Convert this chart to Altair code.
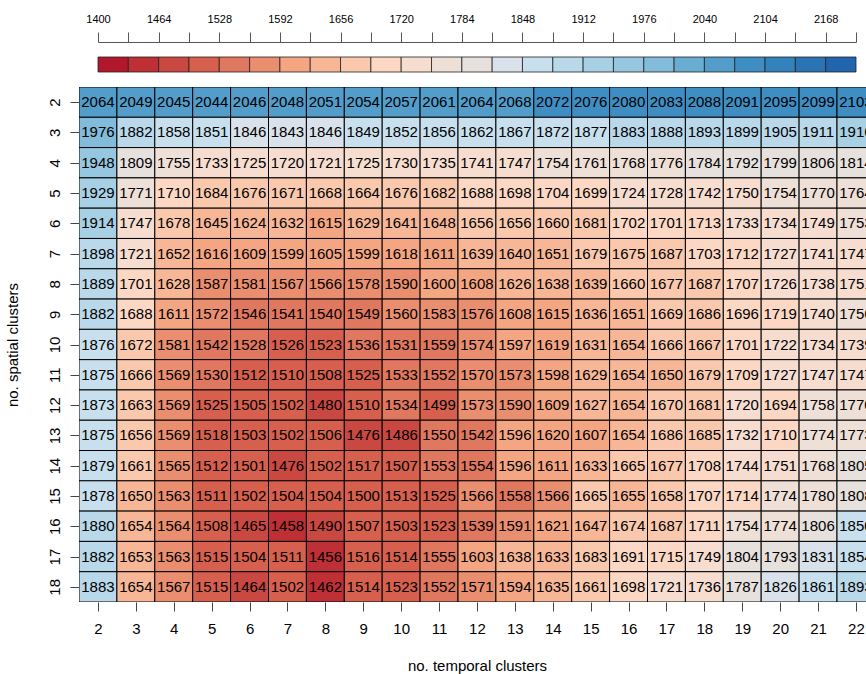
import altair as alt
import pandas as pd

FONT = "Liberation Sans"

# number of temporal clusters (columns) and spatial clusters (rows)
temporal = list(range(2, 23))
spatial = list(range(2, 19))

# criterion value for every (spatial, temporal) combination, one list per row
s02 = [2064, 2049, 2045, 2044, 2046, 2048, 2051, 2054, 2057, 2061, 2064, 2068, 2072, 2076, 2080, 2083, 2088, 2091, 2095, 2099, 2103]
s03 = [1976, 1882, 1858, 1851, 1846, 1843, 1846, 1849, 1852, 1856, 1862, 1867, 1872, 1877, 1883, 1888, 1893, 1899, 1905, 1911, 1916]
s04 = [1948, 1809, 1755, 1733, 1725, 1720, 1721, 1725, 1730, 1735, 1741, 1747, 1754, 1761, 1768, 1776, 1784, 1792, 1799, 1806, 1814]
s05 = [1929, 1771, 1710, 1684, 1676, 1671, 1668, 1664, 1676, 1682, 1688, 1698, 1704, 1699, 1724, 1728, 1742, 1750, 1754, 1770, 1764]
s06 = [1914, 1747, 1678, 1645, 1624, 1632, 1615, 1629, 1641, 1648, 1656, 1656, 1660, 1681, 1702, 1701, 1713, 1733, 1734, 1749, 1753]
s07 = [1898, 1721, 1652, 1616, 1609, 1599, 1605, 1599, 1618, 1611, 1639, 1640, 1651, 1679, 1675, 1687, 1703, 1712, 1727, 1741, 1747]
s08 = [1889, 1701, 1628, 1587, 1581, 1567, 1566, 1578, 1590, 1600, 1608, 1626, 1638, 1639, 1660, 1677, 1687, 1707, 1726, 1738, 1751]
s09 = [1882, 1688, 1611, 1572, 1546, 1541, 1540, 1549, 1560, 1583, 1576, 1608, 1615, 1636, 1651, 1669, 1686, 1696, 1719, 1740, 1756]
s10 = [1876, 1672, 1581, 1542, 1528, 1526, 1523, 1536, 1531, 1559, 1574, 1597, 1619, 1631, 1654, 1666, 1667, 1701, 1722, 1734, 1739]
s11 = [1875, 1666, 1569, 1530, 1512, 1510, 1508, 1525, 1533, 1552, 1570, 1573, 1598, 1629, 1654, 1650, 1679, 1709, 1727, 1747, 1747]
s12 = [1873, 1663, 1569, 1525, 1505, 1502, 1480, 1510, 1534, 1499, 1573, 1590, 1609, 1627, 1654, 1670, 1681, 1720, 1694, 1758, 1770]
s13 = [1875, 1656, 1569, 1518, 1503, 1502, 1506, 1476, 1486, 1550, 1542, 1596, 1620, 1607, 1654, 1686, 1685, 1732, 1710, 1774, 1773]
s14 = [1879, 1661, 1565, 1512, 1501, 1476, 1502, 1517, 1507, 1553, 1554, 1596, 1611, 1633, 1665, 1677, 1708, 1744, 1751, 1768, 1805]
s15 = [1878, 1650, 1563, 1511, 1502, 1504, 1504, 1500, 1513, 1525, 1566, 1558, 1566, 1665, 1655, 1658, 1707, 1714, 1774, 1780, 1808]
s16 = [1880, 1654, 1564, 1508, 1465, 1458, 1490, 1507, 1503, 1523, 1539, 1591, 1621, 1647, 1674, 1687, 1711, 1754, 1774, 1806, 1850]
s17 = [1882, 1653, 1563, 1515, 1504, 1511, 1456, 1516, 1514, 1555, 1603, 1638, 1633, 1683, 1691, 1715, 1749, 1804, 1793, 1831, 1854]
s18 = [1883, 1654, 1567, 1515, 1464, 1502, 1462, 1514, 1523, 1552, 1571, 1594, 1635, 1661, 1698, 1721, 1736, 1787, 1826, 1861, 1893]
grid = [s02, s03, s04, s05, s06, s07, s08, s09, s10, s11, s12, s13, s14, s15, s16, s17, s18]

# colour key: 25 classes of width 32 between 1400 and 2200
key_min, key_max, key_step = 1400, 2200, 32
palette = [
    "#b2182b", "#be3036", "#ca4842", "#d6604d", "#e0775f", "#ea8e70", "#f4a582",
    "#f7b797", "#fac9ad", "#fcd8c4", "#f6ddd0", "#eedfd7", "#e6e1dd", "#d9e2ea",
    "#c8e0ee", "#b9d8ea", "#a8d0e5", "#97c7e0", "#83bcda", "#6aadd3", "#529dca",
    "#3f8ec3", "#3282bc", "#2a74b3", "#2166ac",
]
key_edges = list(range(key_min, key_max + 1, key_step))

cells = pd.DataFrame(
    [{"temporal": t, "spatial": s, "value": v}
     for s, row in zip(spatial, grid) for t, v in zip(temporal, row)]
)
key = pd.DataFrame({"start": key_edges[:-1], "end": key_edges[1:]})

# layout (pixels)
W, H = 787, 515
CELL_W = 37.9

color_scale = alt.Scale(type="threshold", domain=key_edges[1:-1], range=palette)
x_scale = alt.Scale(domain=[1.5, 1.5 + W / CELL_W], nice=False, zero=False)
y_scale = alt.Scale(domain=[1.5, 18.5], reverse=True, nice=False, zero=False)

x_axis = alt.Axis(
    values=temporal, title="no. temporal clusters", domain=False, grid=False,
    tickSize=9, tickColor="#444", labelPadding=10, labelFontSize=15,
    labelFont=FONT, labelColor="black", titleFont=FONT, titleFontSize=15,
    titleFontWeight="normal", titleColor="black", titleX=398, titleY=63,
    titleBaseline="middle", titleAlign="center", format="d",
)
y_axis = alt.Axis(
    values=spatial, title="no. spatial clusters", domain=False, grid=False,
    tickSize=9, tickColor="#444", labelAngle=270, labelAlign="center",
    labelBaseline="bottom", labelPadding=8, labelFontSize=15, labelFont=FONT,
    labelColor="black", titleFont=FONT, titleFontSize=15, titleFontWeight="normal",
    titleColor="black", titleAngle=270, titleX=-67, titleY=H / 2,
    titleBaseline="middle", titleAlign="center", format="d",
)

heat_rects = alt.Chart(cells).transform_calculate(
    x0="datum.temporal - 0.5", x1="datum.temporal + 0.5",
    y0="datum.spatial - 0.5", y1="datum.spatial + 0.5",
).mark_rect(stroke="black", strokeWidth=1, clip=True).encode(
    x=alt.X("x0:Q", scale=x_scale, axis=x_axis),
    x2="x1:Q",
    y=alt.Y("y0:Q", scale=y_scale, axis=y_axis),
    y2="y1:Q",
    color=alt.Color("value:Q", scale=color_scale, legend=None),
)

heat_text = alt.Chart(cells).mark_text(
    font=FONT, fontSize=15, color="black", baseline="middle", align="center", clip=True
).encode(
    x=alt.X("temporal:Q", scale=x_scale, axis=x_axis),
    y=alt.Y("spatial:Q", scale=y_scale, axis=y_axis),
    text=alt.Text("value:Q", format="d"),
)

heat = alt.layer(heat_rects, heat_text)

# colour key drawn above the matrix, with its own value axis on top
key_bar = alt.Chart(key).mark_rect(stroke="#222", strokeWidth=0.8).encode(
    x=alt.X(
        "start:Q",
        scale=alt.Scale(domain=[key_min, key_max], range=[19, 777], nice=False, zero=False),
        axis=alt.Axis(
            orient="top", values=key_edges, offset=45, tickSize=10, tickColor="#555",
            domain=True, domainColor="#555", grid=False, title=None, format="d",
            labelExpr=f"(datum.value - {key_min}) % 64 == 0 ? format(datum.value, 'd') : ''",
            labelFont=FONT, labelFontSize=11, labelColor="black", labelPadding=8,
            labelFlush=False, labelOverlap=False,
        ),
    ),
    x2="end:Q",
    y=alt.value(-30),
    y2=alt.value(-15),
    color=alt.Color("start:Q", scale=color_scale, legend=None),
)

chart = alt.layer(heat, key_bar).resolve_scale(x="independent").properties(
    width=W, height=H,
    autosize=alt.AutoSizeParams(type="none"),
    padding={"left": 79, "top": 87, "right": 0, "bottom": 72},
    background="white",
).configure_view(stroke=None)

chart.save("out.html", embed_options={"renderer": "svg", "actions": False})
